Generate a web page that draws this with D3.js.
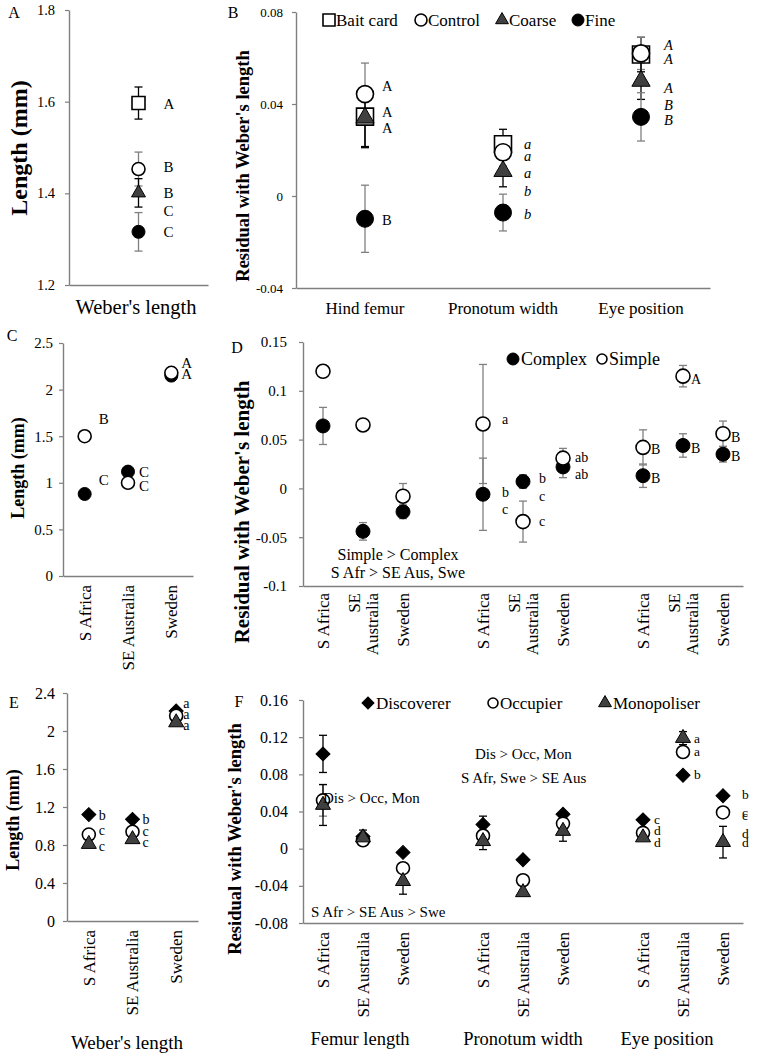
<!DOCTYPE html>
<html>
<head>
<meta charset="utf-8">
<script src="https://cdn.jsdelivr.net/npm/d3@7"></script>
<style>
  body { margin: 0; background: #fff; }
  text { font-family: "Liberation Serif", "Times New Roman", serif; fill: #000; }
</style>
</head>
<body>
<script>
// ---- panel A: Weber's length by treatment
const treatments = ["Bait card", "Control", "Coarse", "Fine"];
const weberMean = [1.597, 1.453, 1.401, 1.316];
const weberErr = [0.035, 0.037, 0.031, 0.042];
const weberLetters = [[1.595, "A"], [1.458, "B"], [1.401, "B"], [1.362, "C"], [1.316, "C"]];

// ---- panel B: residuals by treatment
const traits = ["Hind femur", "Pronotum width", "Eye position"];
const baitRes = [0.0345, 0.0225, 0.0615];
const baitErr = [0.013, 0.0065, 0.0075];
const controlRes = [0.0443, 0.019, 0.062];
const controlErr = [0.0135, 0.006, 0.007];
const coarseRes = [0.034, 0.0108, 0.050];
const coarseErr = [0.013, 0.0068, 0.008];
const fineRes = [-0.0099, -0.0072, 0.0344];
const fineErr = [0.0146, 0.008, 0.0105];
const traitLetters = [
  [0, 0.0477, "A"], [0, 0.0366, "A"], [0, 0.0297, "A"], [0, -0.0103, "B"],
  [1, 0.0228, "a"], [1, 0.0176, "a"], [1, 0.0099, "a"], [1, 0.0022, "b"], [1, -0.0077, "b"],
  [2, 0.0658, "A"], [2, 0.0594, "A"], [2, 0.0469, "A"], [2, 0.0396, "B"], [2, 0.0331, "B"]
];

// ---- panel C: length by complexity and region
const regions = ["S Africa", "SE Australia", "Sweden"];
const complexLen = [0.88, 1.12, 2.15];
const complexLenErr = [0.04, 0.03, 0.03];
const simpleLen = [1.5, 1.0, 2.18];
const simpleLenErr = [0.03, 0.03, 0.03];
const cLetters = [[0, 1.685, "B"], [0, 1.03, "C"], [1, 1.116, "C"], [1, 0.966, "C"], [2, 2.285, "A"], [2, 2.167, "A"]];

// ---- panel D: residuals by complexity, 3 traits x 3 regions
const complexRes = [0.064, -0.044, -0.024, -0.006, 0.007, 0.022, 0.013, 0.044, 0.035];
const complexResErr = [0.019, 0.009, 0.007, 0.037, 0.007, 0.011, 0.012, 0.012, 0.008];
const simpleRes = [0.12, 0.065, -0.008, 0.066, -0.034, 0.031, 0.042, 0.115, 0.056];
const simpleResErr = [0, 0, 0.013, 0.061, 0.021, 0.01, 0.018, 0.011, 0.013];
const dLetters = [
  [3, 0.0707, "a"], [3, -0.004, "b"], [3, -0.0215, "c"],
  [4, 0.0102, "b"], [4, -0.008, "c"], [4, -0.033, "c"],
  [5, 0.032, "ab"], [5, 0.0143, "ab"],
  [6, 0.040, "B"], [6, 0.0102, "B"], [7, 0.112, "A"], [7, 0.041, "B"],
  [8, 0.053, "B"], [8, 0.033, "B"]
];

// ---- panel E: length by behaviour and region
const discLen = [1.12, 1.07, 2.21];
const occLen = [0.91, 0.94, 2.16];
const monLen = [0.81, 0.86, 2.09];
const eLetters = [
  [0, 1.116, "b"], [0, 0.958, "c"], [0, 0.79, "c"],
  [1, 1.074, "b"], [1, 0.947, "c"], [1, 0.83, "c"],
  [2, 2.295, "a"], [2, 2.18, "a"], [2, 2.063, "a"]
];

// ---- panel F: residuals by behaviour
const fTraits = ["Femur length", "Pronotum width", "Eye position"];
const discRes = [0.102, 0.013, -0.004, 0.026, -0.012, 0.037, 0.031, 0.079, 0.057];
const discResErr = [0.02, 0, 0, 0.009, 0, 0, 0, 0, 0];
const occRes = [0.052, 0.009, -0.021, 0.014, -0.034, 0.027, 0.017, 0.104, 0.039];
const occResErr = [0.017, 0, 0, 0, 0, 0, 0, 0, 0];
const monRes = [0.047, 0.012, -0.035, 0.008, -0.047, 0.019, 0.012, 0.119, 0.007];
const monResErr = [0.022, 0.008, 0.014, 0.009, 0, 0.011, 0, 0.007, 0.017];
const fLetters = [
  [6, 0.032, "c"], [6, 0.020, "d"], [6, 0.0065, "d"],
  [7, 0.119, "a"], [7, 0.105, "a"], [7, 0.080, "b"],
  [8, 0.059, "b"], [8, 0.039, "c"], [8, 0.0355, "c"], [8, 0.017, "d"], [8, 0.0065, "d"]
];

// 9 points spread over 11 slots, one empty slot between trait groups
const groupSlots = [0, 1, 2, 4, 5, 6, 8, 9, 10];

const svg = d3.select("body").append("svg")
  .attr("width", 762)
  .attr("height", 1058);

const axisGrey = "#7f7f7f";

// marker look
const markers = {
  square:   { shape: d3.symbolSquare,   fill: "#fff",    stroke: "#000", sw: 1.6, err: "#000" },
  open:     { shape: d3.symbolCircle,   fill: "#fff",    stroke: "#000", sw: 1.6, err: "#808080" },
  triangle: { shape: d3.symbolTriangle, fill: "#404040", stroke: "#000", sw: 1,   err: "#000" },
  filled:   { shape: d3.symbolCircle,   fill: "#000",    stroke: "#000", sw: 1,   err: "#808080" },
  diamond:  { shape: d3.symbolSquare,   fill: "#000",    stroke: "#000", sw: 1,   err: "#000" }
};

function symbolArea(kind, d) {
  if (kind === "open" || kind === "filled") return Math.PI * d * d / 4;
  if (kind === "triangle") return 0.433 * d * d * 1.15;
  if (kind === "diamond") return d * d * 0.5;
  return d * d;
}

function drawMarker(g, kind, x, y, d) {
  const m = markers[kind];
  g.append("path")
    .attr("d", d3.symbol().type(m.shape).size(symbolArea(kind, d))())
    .attr("transform", `translate(${x},${y})` + (kind === "diamond" ? " rotate(45)" : ""))
    .attr("fill", m.fill)
    .attr("stroke", m.stroke)
    .attr("stroke-width", m.sw);
}

// axes for one panel
function makePanel(o) {
  const y = d3.scaleLinear().domain(o.yDomain).range([o.bottom, o.top]);
  const x = d3.scaleBand().domain(d3.range(o.slots)).range([o.left, o.right]);
  const g = svg.append("g");

  const ya = g.append("g")
    .attr("transform", `translate(${o.left},0)`)
    .call(d3.axisLeft(y).tickValues(o.ticks).tickFormat(d => String(d))
      .tickSize(4).tickSizeOuter(0).tickPadding(o.pad));
  ya.attr("font-family", null);
  ya.select(".domain").attr("stroke", axisGrey).attr("stroke-width", 1.4);
  ya.selectAll(".tick line").attr("stroke", axisGrey).attr("stroke-width", 1.2);
  ya.selectAll(".tick text")
    .style("font-family", "'Liberation Serif', 'Times New Roman', serif")
    .style("font-size", o.tickFont + "px")
    .attr("fill", "#000");

  const xa = g.append("g")
    .attr("transform", `translate(0,${o.bottom})`)
    .call(d3.axisBottom(x).tickValues([]).tickSizeOuter(0));
  xa.select(".domain").attr("stroke", axisGrey).attr("stroke-width", 1.4);

  return { g, x, y, cx: i => x(i) + x.bandwidth() / 2, o };
}

function drawSeries(p, values, errs, kind, size, slotOf) {
  const m = markers[kind];
  const eb = p.g.append("g");
  values.forEach((v, i) => {
    const e = errs ? errs[i] : 0;
    if (!e) return;
    const cx = p.cx(slotOf(i));
    eb.append("line").attr("x1", cx).attr("x2", cx)
      .attr("y1", p.y(v - e)).attr("y2", p.y(v + e))
      .attr("stroke", m.err).attr("stroke-width", 1.3);
    [v - e, v + e].forEach(t => {
      eb.append("line").attr("x1", cx - 4).attr("x2", cx + 4)
        .attr("y1", p.y(t)).attr("y2", p.y(t))
        .attr("stroke", m.err).attr("stroke-width", 1.3);
    });
  });
  return () => values.forEach((v, i) => drawMarker(p.g, kind, p.cx(slotOf(i)), p.y(v), size));
}

// draw all error bars first, then markers on top
function drawGroup(p, list) {
  const draws = list.map(s => drawSeries(p, s[0], s[1], s[2], s[3], s[4]));
  draws.forEach(f => f());
}

function letters(p, list, slotOf, dx, font, italic) {
  list.forEach(l => {
    p.g.append("text")
      .attr("x", p.cx(slotOf(l[0])) + (typeof dx === "function" ? dx(l[0]) : dx))
      .attr("y", p.y(l[1]))
      .attr("dy", "0.35em")
      .style("font-size", font + "px")
      .style("font-style", italic && italic(l[0]) ? "italic" : "normal")
      .text(l[2]);
  });
}

function text(x, y, str, size, opts = {}) {
  const t = svg.append("text")
    .attr("x", x).attr("y", y)
    .style("font-size", size + "px")
    .attr("text-anchor", opts.anchor || "start")
    .text(str);
  if (opts.bold) t.style("font-weight", "bold");
  return t;
}

function yTitle(x, y, str, size) {
  svg.append("text")
    .attr("transform", `translate(${x},${y}) rotate(-90)`)
    .attr("text-anchor", "middle")
    .attr("dy", "0.35em")
    .style("font-size", size + "px")
    .style("font-weight", "bold")
    .text(str);
}

function xRotated(p, labels, slotOf, gap, size) {
  labels.forEach((lab, i) => {
    const lines = Array.isArray(lab) ? lab : [lab];
    lines.forEach((ln, k) => {
      const off = (k - (lines.length - 1) / 2) * 18;
      svg.append("text")
        .attr("transform", `translate(${p.cx(slotOf(i)) + off},${p.o.bottom + gap}) rotate(-90)`)
        .attr("text-anchor", "end")
        .attr("dy", "0.35em")
        .style("font-size", size + "px")
        .text(ln);
    });
  });
}

const one = i => i;
const spread = i => groupSlots[i];

// ================= A
const pA = makePanel({ left: 69, right: 208, top: 10, bottom: 285, yDomain: [1.2, 1.8],
  ticks: [1.2, 1.4, 1.6, 1.8], slots: 1, pad: 10, tickFont: 14.5 });
const aKinds = ["square", "open", "triangle", "filled"];
drawGroup(pA, treatments.map((t, i) => [[weberMean[i]], [weberErr[i]], aKinds[i], 13, () => 0]));
letters(pA, weberLetters.map(l => [0, l[0], l[1]]), one, 25, 15);
text(136, 314, "Weber's length", 20.5, { anchor: "middle" });
yTitle(19, 148, "Length (mm)", 24);
text(14, 18, "A", 16, { anchor: "middle" });

// ================= B
const pB = makePanel({ left: 296, right: 710, top: 12, bottom: 288, yDomain: [-0.04, 0.08],
  ticks: [-0.04, 0, 0.04, 0.08], slots: 3, pad: 9, tickFont: 13 });
drawGroup(pB, [
  [baitRes, baitErr, "square", 17, one],
  [controlRes, controlErr, "open", 17, one],
  [coarseRes, coarseErr, "triangle", 17, one],
  [fineRes, fineErr, "filled", 17, one]
]);
letters(pB, traitLetters, one, i => [17, 21, 23][i], 14.5, i => i > 0);
traits.forEach((t, i) => text(pB.cx(i), 314, t, 17, { anchor: "middle" }));
yTitle(243, 166, "Residual with Weber's length", 18.5);
text(233, 18, "B", 16, { anchor: "middle" });
// legend
[[329, "square", "Bait card"], [421, "open", "Control"], [502, "triangle", "Coarse"], [578, "filled", "Fine"]]
  .forEach((l, i) => {
    drawMarker(svg, l[1], l[0], 20, 12);
    text(l[0] + 7, 26, treatments[i], 17);
  });

// ================= C
const pC = makePanel({ left: 63, right: 193, top: 343, bottom: 576, yDomain: [0, 2.5],
  ticks: [0, 0.5, 1, 1.5, 2, 2.5], slots: 3, pad: 6, tickFont: 15 });
drawGroup(pC, [
  [complexLen, complexLenErr, "filled", 13, one],
  [simpleLen, simpleLenErr, "open", 13, one]
]);
letters(pC, cLetters, one, i => [14, 11, 10][i], 15);
xRotated(pC, regions, one, 9, 17);
yTitle(18, 468, "Length (mm)", 18);
text(12, 341, "C", 16, { anchor: "middle" });

// ================= D
const pD = makePanel({ left: 303, right: 743, top: 342, bottom: 586, yDomain: [-0.1, 0.15],
  ticks: [-0.1, -0.05, 0, 0.05, 0.1, 0.15], slots: 11, pad: 12, tickFont: 15 });
drawGroup(pD, [
  [complexRes, complexResErr, "filled", 14, spread],
  [simpleRes, simpleResErr, "open", 14, spread]
]);
letters(pD, dLetters, spread, i => (i < 6 ? [0, 0, 0, 19, 16, 12][i] : 8), 14);
xRotated(pD, regions.concat(regions, regions).map(r => r === "SE Australia" ? ["SE", "Australia"] : r), spread, 7, 17);
yTitle(242, 512, "Residual with Weber's length", 21);
text(237, 353, "D", 16, { anchor: "middle" });
text(398, 560, "Simple > Complex", 16, { anchor: "middle" });
text(398, 578, "S Afr > SE Aus, Swe", 16, { anchor: "middle" });
drawMarker(svg, "filled", 513, 359, 12);
text(521, 365, "Complex", 18);
drawMarker(svg, "open", 602, 359, 10);
text(609, 365, "Simple", 18);

// ================= E
const pE = makePanel({ left: 67, right: 198, top: 693, bottom: 921, yDomain: [0, 2.4],
  ticks: [0, 0.4, 0.8, 1.2, 1.6, 2, 2.4], slots: 3, pad: 8, tickFont: 16 });
drawGroup(pE, [
  [discLen, null, "diamond", 14, one],
  [occLen, null, "open", 13, one],
  [monLen, null, "triangle", 14, one]
]);
letters(pE, eLetters, one, i => [10, 10, 7][i], 14);
xRotated(pE, regions, one, 9, 17);
text(127, 1049, "Weber's length", 19, { anchor: "middle" });
yTitle(13, 820, "Length (mm)", 18);
text(14, 708, "E", 16, { anchor: "middle" });

// ================= F
const pF = makePanel({ left: 303, right: 743, top: 700, bottom: 923, yDomain: [-0.08, 0.16],
  ticks: [-0.08, -0.04, 0, 0.04, 0.08, 0.12, 0.16], slots: 11, pad: 11, tickFont: 16 });
drawGroup(pF, [
  [discRes, discResErr, "diamond", 14, spread],
  [occRes, occResErr, "open", 13, spread],
  [monRes, monResErr, "triangle", 14, spread]
]);
letters(pF, fLetters, spread, i => (i === 8 ? 19 : 11), 13.5);
xRotated(pF, regions.concat(regions, regions), spread, 9, 17);
[360, 523, 667].forEach((x, i) => text(x, 1045, fTraits[i], 18.5, { anchor: "middle" }));
yTitle(235, 839, "Residual with Weber's length", 18.5);
text(239, 707, "F", 16, { anchor: "middle" });
text(323, 803, "Dis > Occ, Mon", 15);
text(475, 759, "Dis > Occ, Mon", 15);
text(461, 783, "S Afr, Swe > SE Aus", 15);
text(311, 917, "S Afr > SE Aus > Swe", 15);
// legend
drawMarker(svg, "diamond", 368, 703, 12);
text(376, 709, "Discoverer", 17);
drawMarker(svg, "open", 493, 703, 10);
text(500, 709, "Occupier", 17);
drawMarker(svg, "triangle", 605, 703, 12);
text(613, 709, "Monopoliser", 17);
</script>
</body>
</html>
